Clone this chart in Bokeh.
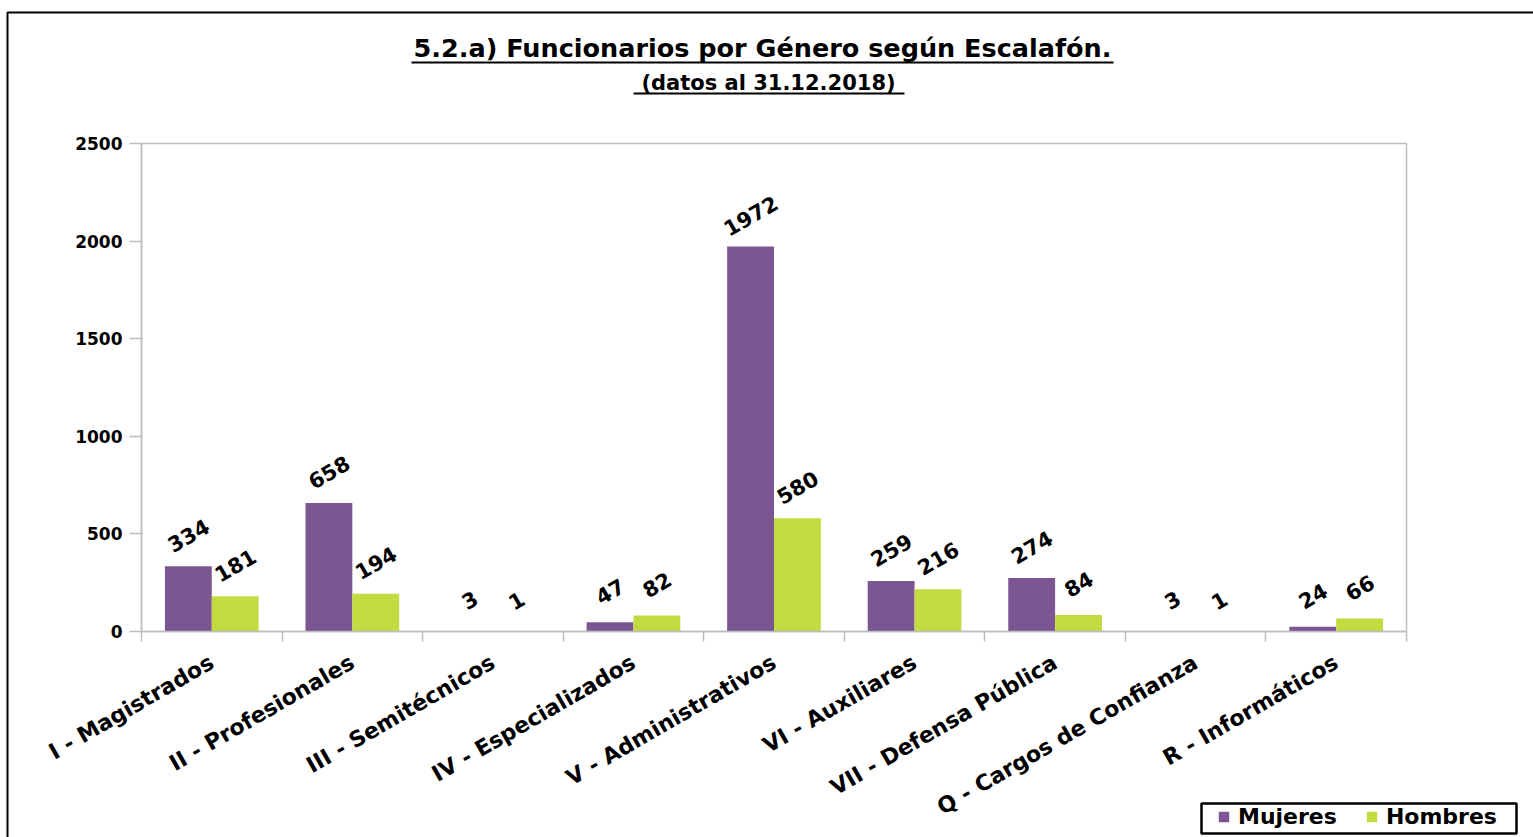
import math
from bokeh.plotting import figure
from bokeh.models import (Range1d, FixedTicker, Label, BoxAnnotation, Legend, LegendItem,
                          ColumnDataSource)
from bokeh.core.properties import value
from bokeh.embed import file_html
from bokeh.resources import INLINE

categories = ["I - Magistrados", "II - Profesionales", "III - Semitécnicos",
              "IV - Especializados", "V - Administrativos", "VI - Auxiliares",
              "VII - Defensa Pública", "Q - Cargos de Confianza", "R - Informáticos"]
mujeres = [334, 658, 3, 47, 1972, 259, 274, 3, 24]
hombres = [181, 194, 1, 82, 580, 216, 84, 1, 66]
y_ticks = [0, 500, 1000, 1500, 2000, 2500]
y_max = 2500

title_text = "5.2.a) Funcionarios por Género según Escalafón."
subtitle_text = "(datos al 31.12.2018)"

PURPLE = "#7B5693"
GREEN = "#C3DA41"
GRAY = "#bdbdbd"
FONT = "DejaVu Sans"

W, H = 1533, 837
FL, FR, FT, FB = 141, 1406, 143, 631   # plot-area edges in page px
n = len(categories)

# ranges chosen so that the data area [0,n]x[0,y_max] lands on the plot-area box
xs = (FR - FL) / n
ys = (FB - FT) / y_max
x_range = Range1d(-FL / xs, n + (W - FR) / xs)
y_range = Range1d(-(H - FB) / ys, y_max + FT / ys)

p = figure(width=W, height=H, output_backend="svg", toolbar_location=None,
           x_range=x_range, y_range=y_range,
           min_border_left=0, min_border_right=0, min_border_top=0, min_border_bottom=0)
p.title = None
p.xgrid.visible = False
p.ygrid.visible = False
p.outline_line_color = None

# plot-area frame
p.add_layout(BoxAnnotation(left=0, right=n, bottom=0, top=y_max, fill_alpha=0,
                           line_color=GRAY, line_alpha=1, line_width=1.5, level="underlay"))

xm = [i + 1/3 for i in range(n)]
xh = [i + 2/3 for i in range(n)]
src_m = ColumnDataSource(dict(x=xm, top=mujeres, lab=[str(v) for v in mujeres]))
src_h = ColumnDataSource(dict(x=xh, top=hombres, lab=[str(v) for v in hombres]))

rm = p.vbar(x="x", top="top", width=1/3, source=src_m, fill_color=PURPLE, line_color=None)
rh = p.vbar(x="x", top="top", width=1/3, source=src_h, fill_color=GREEN, line_color=None)

for src in (src_m, src_h):
    p.text(x="x", y="top", text="lab", source=src, angle=math.pi/6,
           text_align="center", text_baseline="middle", y_offset=-31,
           text_font=value(FONT), text_font_style="bold", text_font_size="21px",
           text_color="black")

# y axis
yax = p.yaxis[0]
yax.fixed_location = 0
yax.bounds = (0, y_max)
yax.ticker = FixedTicker(ticks=y_ticks)
yax.major_tick_out = 12
yax.major_tick_in = 0
yax.minor_tick_out = 0
yax.minor_tick_in = 0
yax.axis_line_color = GRAY
yax.axis_line_width = 1.5
yax.major_tick_line_color = GRAY
yax.major_tick_line_width = 1.5
yax.major_label_standoff = 7
yax.major_label_text_font = FONT
yax.major_label_text_font_style = "bold"
yax.major_label_text_font_size = "17px"
yax.major_label_text_color = "black"

# x axis
xax = p.xaxis[0]
xax.fixed_location = 0
xax.bounds = (0, n)
xax.ticker = FixedTicker(ticks=[i + 0.5 for i in range(n)], minor_ticks=list(range(n + 1)))
xax.major_label_overrides = {i + 0.5: c for i, c in enumerate(categories)}
xax.major_tick_out = 0
xax.major_tick_in = 0
xax.minor_tick_out = 10
xax.minor_tick_in = 0
xax.minor_tick_line_color = GRAY
xax.minor_tick_line_width = 1.5
xax.axis_line_color = GRAY
xax.axis_line_width = 1.5
xax.major_label_orientation = math.pi / 6
xax.major_label_standoff = 19
xax.major_label_text_font = FONT
xax.major_label_text_font_style = "bold"
xax.major_label_text_font_size = "22px"
xax.major_label_text_color = "black"

# page px -> screen units (x from left, y up from bottom)
def X(px): return px
def Y(py): return H - py

def box(l, r, t, b, **kw):
    return BoxAnnotation(left=X(l), right=X(r), top=Y(t), bottom=Y(b),
                         left_units="screen", right_units="screen",
                         top_units="screen", bottom_units="screen", **kw)

p.add_layout(Label(x=X(762), y=Y(47), x_units="screen", y_units="screen",
                   text=title_text, text_align="center", text_baseline="middle",
                   text_font=FONT, text_font_style="bold", text_font_size="25.5px",
                   text_color="black"))
p.add_layout(Label(x=X(768), y=Y(82), x_units="screen", y_units="screen",
                   text=subtitle_text, text_align="center", text_baseline="middle",
                   text_font=FONT, text_font_style="bold", text_font_size="21px",
                   text_color="black"))
p.add_layout(box(411, 1113, 61, 63, fill_color="black", fill_alpha=1, line_color=None))
p.add_layout(box(633, 904, 92, 94, fill_color="black", fill_alpha=1, line_color=None))
p.add_layout(box(7, 1560, 12, 860, fill_alpha=0, line_color="black", line_alpha=1,
                 line_width=2))
p.add_layout(box(1201, 1516, 803, 833, fill_color="white", fill_alpha=1,
                 line_color="black", line_alpha=1, line_width=2.5))

legend = Legend(items=[LegendItem(label="Mujeres", renderers=[rm]),
                       LegendItem(label="Hombres", renderers=[rh])],
                orientation="horizontal", location=(X(1215), Y(831)),
                border_line_alpha=0, background_fill_alpha=0,
                glyph_width=13, glyph_height=13, label_standoff=8, spacing=28,
                padding=2, margin=0, label_height=22,
                label_text_font=FONT, label_text_font_style="bold",
                label_text_font_size="22px", label_text_color="black")
p.add_layout(legend, "center")

open("out.html", "w").write(file_html(p, INLINE))
